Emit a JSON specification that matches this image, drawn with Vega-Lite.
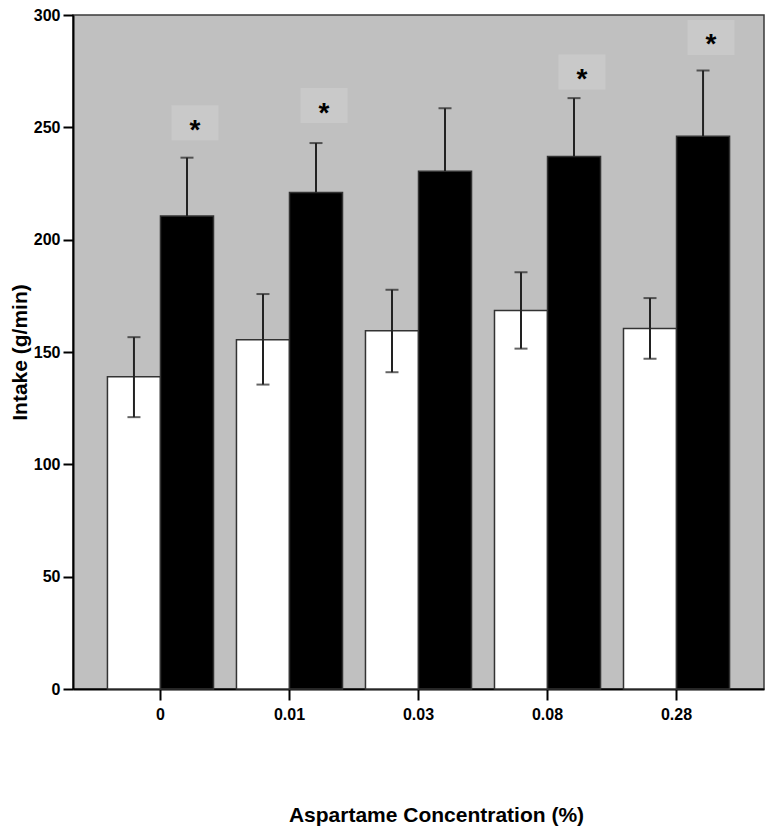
{
  "$schema": "https://vega.github.io/schema/vega-lite/v6.json",
  "width": 691,
  "height": 674,
  "autosize": {"type": "none"},
  "padding": {"left": 73, "top": 15, "right": 13, "bottom": 148},
  "background": "white",
  "config": {
    "view": {"fill": "#c0c0c0", "stroke": "#3a3a3a", "strokeWidth": 1.5},
    "axis": {
      "grid": false,
      "domainColor": "#000",
      "tickColor": "#000",
      "domainWidth": 2,
      "tickWidth": 2,
      "labelFont": "Liberation Sans",
      "labelFontWeight": "bold",
      "labelFontSize": 16,
      "labelColor": "#000",
      "titleFont": "Liberation Sans",
      "titleFontWeight": "bold",
      "titleColor": "#000"
    }
  },
  "datasets": {
    "bars": [
      {"conc": "0", "group": "A", "mean": 139, "lo": 121, "hi": 156.6},
      {"conc": "0", "group": "B", "mean": 210.5, "lo": 184.5, "hi": 236.5},
      {"conc": "0.01", "group": "A", "mean": 155.5, "lo": 135.5, "hi": 175.8},
      {"conc": "0.01", "group": "B", "mean": 221, "lo": 199, "hi": 243},
      {"conc": "0.03", "group": "A", "mean": 159.5, "lo": 141, "hi": 177.7},
      {"conc": "0.03", "group": "B", "mean": 230.5, "lo": 202.5, "hi": 258.5},
      {"conc": "0.08", "group": "A", "mean": 168.5, "lo": 151.5, "hi": 185.5},
      {"conc": "0.08", "group": "B", "mean": 237, "lo": 211, "hi": 263},
      {"conc": "0.28", "group": "A", "mean": 160.5, "lo": 147, "hi": 174},
      {"conc": "0.28", "group": "B", "mean": 246, "lo": 217, "hi": 275.3}
    ],
    "stars": [
      {"conc": "0", "group": "B", "y": 252, "label": "*"},
      {"conc": "0.01", "group": "B", "y": 259.7, "label": "*"},
      {"conc": "0.08", "group": "B", "y": 274.6, "label": "*"},
      {"conc": "0.28", "group": "B", "y": 290, "label": "*"}
    ]
  },
  "layer": [
    {
      "data": {"name": "bars"},
      "mark": {"type": "bar", "stroke": "#333", "strokeWidth": 1.5},
      "encoding": {
        "x": {
          "field": "conc", "type": "nominal",
          "sort": ["0", "0.01", "0.03", "0.08", "0.28"],
          "scale": {"paddingInner": 0.178, "paddingOuter": 0.267},
          "axis": {
            "title": "Aspartame Concentration (%)",
            "titleFontSize": 21,
            "titlePadding": 82,
            "titleX": 363,
            "labelAngle": 0,
            "tickSize": 11,
            "labelPadding": 6
          }
        },
        "xOffset": {"field": "group", "type": "nominal", "scale": {"domain": ["A", "B"], "paddingInner": 0, "paddingOuter": 0}},
        "y": {
          "field": "mean", "type": "quantitative",
          "scale": {"domain": [0, 300], "nice": false},
          "axis": {
            "title": "Intake (g/min)",
            "titleFontSize": 21,
            "titlePadding": 3,
            "values": [0, 50, 100, 150, 200, 250, 300],
            "tickSize": 10,
            "labelPadding": 3
          }
        },
        "color": {"field": "group", "type": "nominal", "scale": {"domain": ["A", "B"], "range": ["#ffffff", "#000000"]}, "legend": null}
      }
    },
    {
      "data": {"name": "bars"},
      "mark": {"type": "rule", "color": "#222", "strokeWidth": 2},
      "encoding": {
        "x": {"field": "conc", "type": "nominal", "sort": ["0", "0.01", "0.03", "0.08", "0.28"]},
        "xOffset": {"field": "group", "type": "nominal"},
        "y": {"field": "mean", "type": "quantitative"},
        "y2": {"field": "hi"}
      }
    },
    {
      "data": {"name": "bars"},
      "transform": [{"filter": "datum.group === 'A'"}],
      "mark": {"type": "rule", "color": "#222", "strokeWidth": 2},
      "encoding": {
        "x": {"field": "conc", "type": "nominal", "sort": ["0", "0.01", "0.03", "0.08", "0.28"]},
        "xOffset": {"field": "group", "type": "nominal"},
        "y": {"field": "lo", "type": "quantitative"},
        "y2": {"field": "mean"}
      }
    },
    {
      "data": {"name": "bars"},
      "mark": {"type": "tick", "orient": "horizontal", "size": 13, "thickness": 2, "color": "#222"},
      "encoding": {
        "x": {"field": "conc", "type": "nominal", "sort": ["0", "0.01", "0.03", "0.08", "0.28"]},
        "xOffset": {"field": "group", "type": "nominal"},
        "y": {"field": "hi", "type": "quantitative"}
      }
    },
    {
      "data": {"name": "bars"},
      "transform": [{"filter": "datum.group === 'A'"}],
      "mark": {"type": "tick", "orient": "horizontal", "size": 13, "thickness": 2, "color": "#222"},
      "encoding": {
        "x": {"field": "conc", "type": "nominal", "sort": ["0", "0.01", "0.03", "0.08", "0.28"]},
        "xOffset": {"field": "group", "type": "nominal"},
        "y": {"field": "lo", "type": "quantitative"}
      }
    },
    {
      "data": {"name": "stars"},
      "mark": {"type": "point", "filled": true, "fill": "#c9c9c9", "strokeWidth": 0, "opacity": 1, "size": 2209, "shape": "M-0.66,-0.745L1.34,-0.745L1.34,0.745L-0.66,0.745Z"},
      "encoding": {
        "x": {"field": "conc", "type": "nominal", "sort": ["0", "0.01", "0.03", "0.08", "0.28"]},
        "xOffset": {"field": "group", "type": "nominal"},
        "y": {"field": "y", "type": "quantitative"}
      }
    },
    {
      "data": {"name": "stars"},
      "mark": {"type": "text", "font": "Liberation Sans", "fontWeight": "bold", "fontSize": 28, "baseline": "middle", "align": "center", "dx": 8, "dy": 8, "color": "#000"},
      "encoding": {
        "x": {"field": "conc", "type": "nominal", "sort": ["0", "0.01", "0.03", "0.08", "0.28"]},
        "xOffset": {"field": "group", "type": "nominal"},
        "y": {"field": "y", "type": "quantitative"},
        "text": {"field": "label"}
      }
    }
  ]
}
